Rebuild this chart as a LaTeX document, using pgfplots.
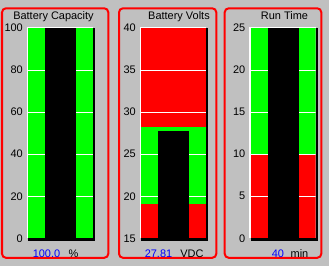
\documentclass[border=0pt]{standalone}
\usepackage{pgfplots}
\pgfplotsset{compat=1.18}
\usepackage{fontspec}
\setmainfont{Liberation Sans}
\definecolor{bg}{RGB}{192,192,192}
\definecolor{gg}{RGB}{0,255,0}
\definecolor{rr}{RGB}{255,0,0}
\definecolor{bb}{RGB}{0,0,255}
\pgfplotsset{
 gauge/.style={
  scale only axis, width=65bp, height=210.3bp, anchor=south west,
  xmin=0, xmax=1, axis line style={draw=none}, major tick length=0pt,
  xtick=\empty,
  /pgf/number format/assume math mode=true,
  yticklabel style={font=\fontsize{11}{11}\selectfont, anchor=east, inner sep=0pt, xshift=-5bp},
  no markers,
 },
}
\newcommand{\band}[3]{\addplot[fill=#1, draw=none] coordinates {(0,#2) (1,#2) (1,#3) (0,#3)} -- cycle;}
\newcommand{\gl}[1]{\addplot[white, line width=1bp] coordinates {(0,#1) (1,#1)};}
\newcommand{\blackbar}[2]{\addplot[fill=black, draw=none] coordinates {(0.265,#1) (0.74,#1) (0.74,#2) (0.265,#2)} -- cycle;}
\begin{document}
\begin{tikzpicture}
\begin{scope}[x=1bp,y=-1bp]
\fill[bg] (0,0) rectangle (329,266);
\draw[rr, line width=2bp, rounded corners=4bp] (2,8.3) rectangle (108.3,257.8);
\draw[rr, line width=2bp, rounded corners=4bp] (119,8.3) rectangle (216.3,257.8);
\draw[rr, line width=2bp, rounded corners=4bp] (224.7,8.3) rectangle (321.3,257.8);
\end{scope}
% Panel 1
\begin{axis}[gauge, at={(28bp,-238.3bp)}, ymin=0, ymax=100, ytick={0,20,...,100}]
\band{gg}{0}{100}
\gl{20}\gl{40}\gl{60}\gl{80}
\blackbar{0}{100}
\end{axis}
% Panel 2
\begin{axis}[gauge, at={(141bp,-238.3bp)}, ymin=15, ymax=40, ytick={15,20,...,40}]
\band{rr}{15}{19.1}
\band{gg}{19.1}{28.2}
\band{rr}{28.2}{40}
\gl{20}\gl{25}\gl{30}\gl{35}
\blackbar{15}{27.81}
\end{axis}
% Panel 3
\begin{axis}[gauge, at={(250.5bp,-238.3bp)}, ymin=0, ymax=25, ytick={0,5,...,25}]
\band{rr}{0}{10}
\band{gg}{10}{25}
\gl{5}\gl{10}\gl{15}\gl{20}
\blackbar{0}{25}
\end{axis}
\begin{scope}[x=1bp,y=-1bp]
\foreach \xa/\xb in {28/93, 141/206, 250.5/315.5}{
  \draw[white, line width=1.3bp] (\xa-0.65,238.3) -- (\xa-0.65,27.35) -- (\xb,27.35);
  \draw[black, line width=2.3bp] (\xa,239.45) -- (\xb+1.15,239.45) -- (\xb+1.15,28);
}
\tikzset{lbl/.style={font=\fontsize{11}{11}\selectfont, inner sep=0pt, anchor=base}}
\node[lbl] at (53.5,19) {Battery Capacity};
\node[lbl] at (179,19) {Battery Volts};
\node[lbl] at (284.5,19) {Run Time};
\node[lbl, text=bb] at (46.5,257) {100.0};
\node[lbl] at (73.5,257) {\%};
\node[lbl, text=bb] at (158.5,257) {27.81};
\node[lbl] at (192,257) {VDC};
\node[lbl, text=bb] at (278,257) {40};
\node[lbl] at (299.5,257) {min};
\end{scope}
\end{tikzpicture}
\end{document}
